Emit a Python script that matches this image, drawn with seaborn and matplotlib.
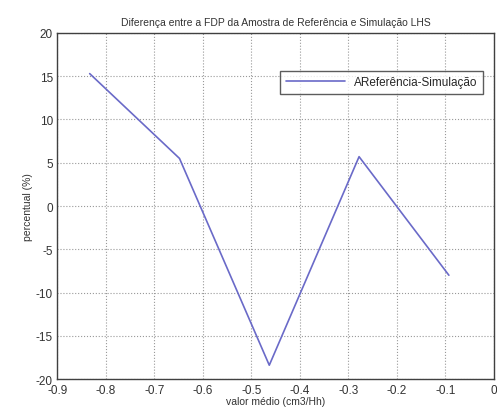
import matplotlib
matplotlib.use("Agg")
import matplotlib.pyplot as plt
import seaborn as sns
import pandas as pd

x_vals = [-0.833, -0.648, -0.463, -0.278, -0.093]
y_vals = [15.3, 5.5, -18.4, 5.7, -8.0]
series_name = "AReferência-Simulação"
x_ticks = [-0.9, -0.8, -0.7, -0.6, -0.5, -0.4, -0.3, -0.2, -0.1, 0]
x_tick_labels = ["-0.9", "-0.8", "-0.7", "-0.6", "-0.5", "-0.4", "-0.3", "-0.2", "-0.1", "0"]
y_ticks = [-20, -15, -10, -5, 0, 5, 10, 15, 20]

sns.set_style("white")
plt.rcParams['font.family'] = ['Liberation Sans', 'DejaVu Sans']
plt.rcParams['axes.unicode_minus'] = False

df = pd.DataFrame({"x": x_vals, "y": y_vals, "s": series_name})

fig = plt.figure(figsize=(4.97, 4.14), dpi=100)
ax = fig.add_axes([0.115, 0.082, 0.879, 0.836])
sns.lineplot(data=df, x="x", y="y", hue="s", palette=["#6a6ac8"], ax=ax,
             linewidth=1.2, sort=False)
ax.set_xlim(-0.9, 0)
ax.set_ylim(-20, 20)
ax.set_xticks(x_ticks)
ax.set_xticklabels(x_tick_labels)
ax.set_yticks(y_ticks)
ax.grid(True, linestyle=":", color="#999999", linewidth=0.8)
for s in ax.spines.values():
    s.set_color("#404040")
    s.set_linewidth(1.0)
ax.tick_params(labelsize=8.5, colors="#333333", length=3, direction="in")
ax.tick_params(axis="x", pad=3.5)
ax.tick_params(axis="y", pad=3)
ax.set_xlabel("valor médio (cm3/Hh)", fontsize=7.5, color="#333333", labelpad=0)
ax.set_ylabel("percentual (%)", fontsize=7.5, color="#333333", labelpad=2)
ax.set_title("Diferença entre a FDP da Amostra de Referência e Simulação LHS",
             fontsize=7.5, color="#333333", pad=6)
leg = ax.legend(loc="upper right", bbox_to_anchor=(0.975, 0.89), fontsize=8.5,
                frameon=True, fancybox=False, borderpad=0.45, handlelength=5,
                borderaxespad=0)
leg.get_frame().set_edgecolor("#333333")
leg.get_frame().set_linewidth(1.0)
fig.savefig("out.png", dpi=100)
